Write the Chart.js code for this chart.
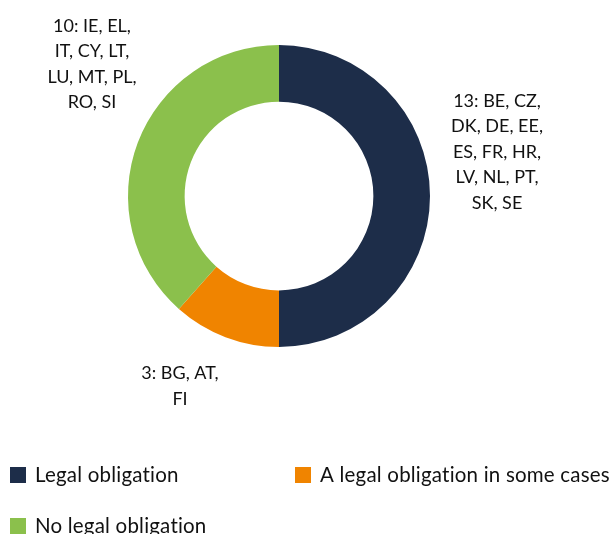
<!DOCTYPE html>
<html>
<head>
<meta charset="utf-8">
<script src="https://cdn.jsdelivr.net/npm/chart.js@4"></script>
<style>
  html, body { margin: 0; padding: 0; background: #fff; }
  #wrap { width: 611px; height: 534px; }
</style>
</head>
<body>
<div id="wrap"><canvas id="grafico" width="611" height="534"></canvas></div>
<script>
const categorias = ["Legal obligation", "A legal obligation in some cases", "No legal obligation"];
const cantidades = [13, 3, 10];
const paises = [
  ["BE", "CZ", "DK", "DE", "EE", "ES", "FR", "HR", "LV", "NL", "PT", "SK", "SE"],
  ["BG", "AT", "FI"],
  ["IE", "EL", "IT", "CY", "LT", "LU", "MT", "PL", "RO", "SI"],
];
const colores = ["#1d2d49", "#f08400", "#8bc04c"];

const FUENTE = "Lato, 'Open Sans', sans-serif";

// label anchors relative to the doughnut centre
const anclas = [[218, -44], [-99, 190], [-187, -132]];

// "13: BE, CZ," then three countries per line
function lineasEtiqueta(i) {
  const palabras = [cantidades[i] + ":"].concat(paises[i].map((p, k) => k < paises[i].length - 1 ? p + "," : p));
  const lineas = [];
  let actual = [];
  palabras.forEach((w) => {
    actual.push(w);
    if (actual.length === 3) {
      lineas.push(actual.join(" "));
      actual = [];
    }
  });
  if (actual.length) lineas.push(actual.join(" "));
  return lineas;
}

const etiquetas = {
  id: "etiquetas",
  afterDatasetsDraw(chart) {
    const c = chart.ctx;
    const arc = chart.getDatasetMeta(0).data[0];
    c.save();
    c.font = "18px " + FUENTE;
    c.fillStyle = "#111";
    c.textAlign = "center";
    c.textBaseline = "middle";
    const alto = 25.5;
    cantidades.forEach((v, i) => {
      const lineas = lineasEtiqueta(i);
      const cx = arc.x + anclas[i][0];
      const cy = arc.y + anclas[i][1];
      const y0 = cy - (lineas.length - 1) * alto / 2;
      lineas.forEach((t, k) => c.fillText(t, cx, y0 + k * alto));
    });
    c.restore();
  },
};

const leyenda = {
  id: "leyenda",
  afterDraw(chart) {
    const c = chart.ctx;
    const pos = [[10, 475], [295, 475], [10, 526]];
    c.save();
    c.font = "20.5px " + FUENTE;
    c.letterSpacing = "0.2px"; // also stops the "ti" ligature
    c.textBaseline = "middle";
    c.textAlign = "left";
    categorias.forEach((t, i) => {
      const [x, y] = pos[i];
      c.fillStyle = colores[i];
      c.fillRect(x, y - 8, 16, 16);
      c.fillStyle = "#111";
      c.fillText(t, x + 25, y);
    });
    c.restore();
  },
};

const ctx = document.getElementById("grafico");

const grafico = new Chart(ctx, {
  type: "doughnut",
  data: {
    labels: categorias,
    datasets: [
      {
        data: cantidades,
        backgroundColor: colores,
        borderWidth: 0,
        hoverOffset: 0,
      },
    ],
  },
  options: {
    responsive: false,
    animation: false,
    cutout: "62.5%",
    layout: {
      padding: { left: 128, right: 181, top: 45, bottom: 187 },
    },
    plugins: {
      legend: { display: false },
      tooltip: { enabled: false },
    },
  },
  plugins: [etiquetas, leyenda],
});
</script>
</body>
</html>
